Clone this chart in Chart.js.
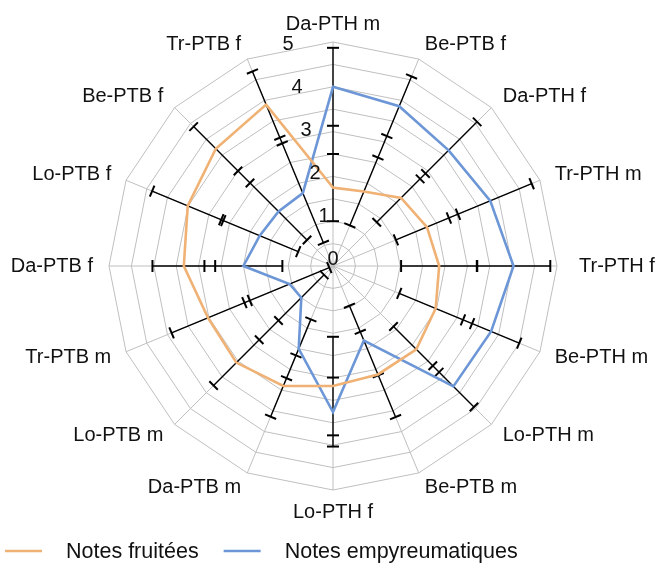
<!DOCTYPE html>
<html>
<head>
<meta charset="utf-8">
<script src="https://cdn.jsdelivr.net/npm/chart.js@4.4.0/dist/chart.umd.min.js"></script>
<style>
    html, body { margin: 0; padding: 0; background: #fff; }
    #wrap { width: 659px; height: 563px; }
</style>
</head>
<body>
<div id="wrap"><canvas id="myChart"></canvas></div>
<script>

var categories = ['Da-PTH m', 'Be-PTB f', 'Da-PTH f', 'Tr-PTH m', 'Tr-PTH f', 'Be-PTH m', 'Lo-PTH m', 'Be-PTB m',
    'Lo-PTH f', 'Da-PTB m', 'Lo-PTB m', 'Tr-PTB m', 'Da-PTB f', 'Lo-PTB f', 'Be-PTB f', 'Tr-PTB f'];

var notesFruitees = [1.75, 1.8, 2.15, 2.27, 2.37, 2.48, 2.63, 2.62, 2.68, 2.9, 3.05, 3.02, 3.33, 3.51, 3.7, 3.9];
var errFruitees = [0.75, 0.82, 0.77, 0.75, 0.85, 0.88, 0.72, 1.03, 1.1, 0.74, 0.72, 0.88, 0.7, 0.86, 0.7, 0.8];

var notesEmpyreumatiques = [4.0, 3.86, 3.65, 3.8, 4.03, 3.82, 3.8, 1.8, 3.26, 2.0, 1.0, 1.05, 2.0, 1.77, 1.72, 1.76];
var errEmpyreumatiques = [0.87, 0.72, 0.9, 1.0, 0.82, 0.68, 0.65, 0.84, 0.77, 0.71, 0.72, 0.96, 0.87, 0.93, 0.9, 1.2];

var tickLabels = [0, 1, 2, 3, 4, 5];

var FONT = "'Liberation Sans', Arial, sans-serif";

// error bars along each spoke (under the lines), plus labels and legend drawn excel-style
var radarExtras = {
    id: 'radarExtras',
    beforeDatasetsDraw: function (chart) {
        var scale = chart.scales.r;
        var ctx = chart.ctx;
        var series = [[notesFruitees, errFruitees], [notesEmpyreumatiques, errEmpyreumatiques]];
        ctx.save();
        ctx.strokeStyle = '#000';
        for (var i = 0; i < categories.length; i++) {
            var lo = 99, hi = -99;
            series.forEach(function (s) {
                lo = Math.min(lo, s[0][i] - s[1][i]);
                hi = Math.max(hi, s[0][i] + s[1][i]);
            });
            var a = scale.getPointPositionForValue(i, Math.max(lo, 0));
            var b = scale.getPointPositionForValue(i, hi);
            ctx.lineWidth = 1.4;
            ctx.beginPath();
            ctx.moveTo(a.x, a.y);
            ctx.lineTo(b.x, b.y);
            ctx.stroke();

            var dx = b.x - a.x, dy = b.y - a.y;
            var len = Math.sqrt(dx * dx + dy * dy) || 1;
            var px = -dy / len * 6, py = dx / len * 6;
            ctx.lineWidth = 2;
            series.forEach(function (s) {
                [s[0][i] - s[1][i], s[0][i] + s[1][i]].forEach(function (v) {
                    var p = scale.getPointPositionForValue(i, Math.max(v, 0));
                    ctx.beginPath();
                    ctx.moveTo(p.x - px, p.y - py);
                    ctx.lineTo(p.x + px, p.y + py);
                    ctx.stroke();
                });
            });
        }
        ctx.restore();
    },
    afterDraw: function (chart) {
        var scale = chart.scales.r;
        var ctx = chart.ctx;
        ctx.save();
        ctx.fillStyle = '#111';

        // value ticks
        ctx.font = '20px ' + FONT;
        ctx.textAlign = 'center';
        ctx.textBaseline = 'middle';
        tickLabels.forEach(function (v) {
            var p = scale.getPointPositionForValue(0, v);
            ctx.fillText(String(v), p.x - 9 * v, p.y - 7 + 1.8 * v);
        });

        // category labels
        categories.forEach(function (label, i) {
            var deg = Math.round(scale.getIndexAngle(i) * 180 / Math.PI) % 360;
            var vertical = (deg === 0 || deg === 180);
            var pad = vertical ? 12 : (deg === 90 ? 22 : 16);
            var p = scale.getPointPosition(i, scale.drawingArea + pad);
            ctx.textAlign = vertical ? 'center' : (deg < 180 ? 'left' : 'right');
            ctx.textBaseline = deg === 0 ? 'alphabetic' : (deg === 180 ? 'top' : 'middle');
            ctx.fillText(label, p.x, p.y);
        });

        // legend
        var x = 5, y = 551;
        ctx.font = '21.5px ' + FONT;
        ctx.textAlign = 'left';
        ctx.textBaseline = 'middle';
        chart.data.datasets.forEach(function (ds) {
            ctx.strokeStyle = ds.borderColor;
            ctx.lineWidth = 2.6;
            ctx.beginPath();
            ctx.moveTo(x, y);
            ctx.lineTo(x + 37, y);
            ctx.stroke();
            x += 37 + 24;
            ctx.fillText(ds.label, x, y + 1);
            x += ctx.measureText(ds.label).width + 25;
        });
        ctx.restore();
    }
};

function DrawChart() {
    var ctx = document.getElementById('myChart').getContext('2d');

    var myChart = new Chart(ctx, {
        type: 'radar',
        data: {
            labels: categories,
            datasets: [{
                label: 'Notes fruitées',
                data: notesFruitees,
                borderColor: '#F0B174',
                backgroundColor: '#F0B174',
                borderWidth: 2.6,
                fill: false,
                pointRadius: 0
            }, {
                label: 'Notes empyreumatiques',
                data: notesEmpyreumatiques,
                borderColor: '#6C96D6',
                backgroundColor: '#6C96D6',
                borderWidth: 2.6,
                fill: false,
                pointRadius: 0
            }]
        },
        options: {
            responsive: true,
            maintainAspectRatio: false,
            animation: false,
            layout: { padding: { top: 42, bottom: 73, left: 30, right: 23 } },
            elements: { line: { tension: 0 } },
            scales: {
                r: {
                    min: 0,
                    max: 5,
                    ticks: { stepSize: 0.5, display: false },
                    grid: { color: '#BFBFBF', lineWidth: 1, circular: false },
                    angleLines: { color: '#BFBFBF', lineWidth: 1 },
                    pointLabels: { display: false }
                }
            },
            plugins: {
                legend: { display: false },
                tooltip: { enabled: false }
            }
        },
        plugins: [radarExtras]
    });
}

DrawChart();
</script>
</body>
</html>
